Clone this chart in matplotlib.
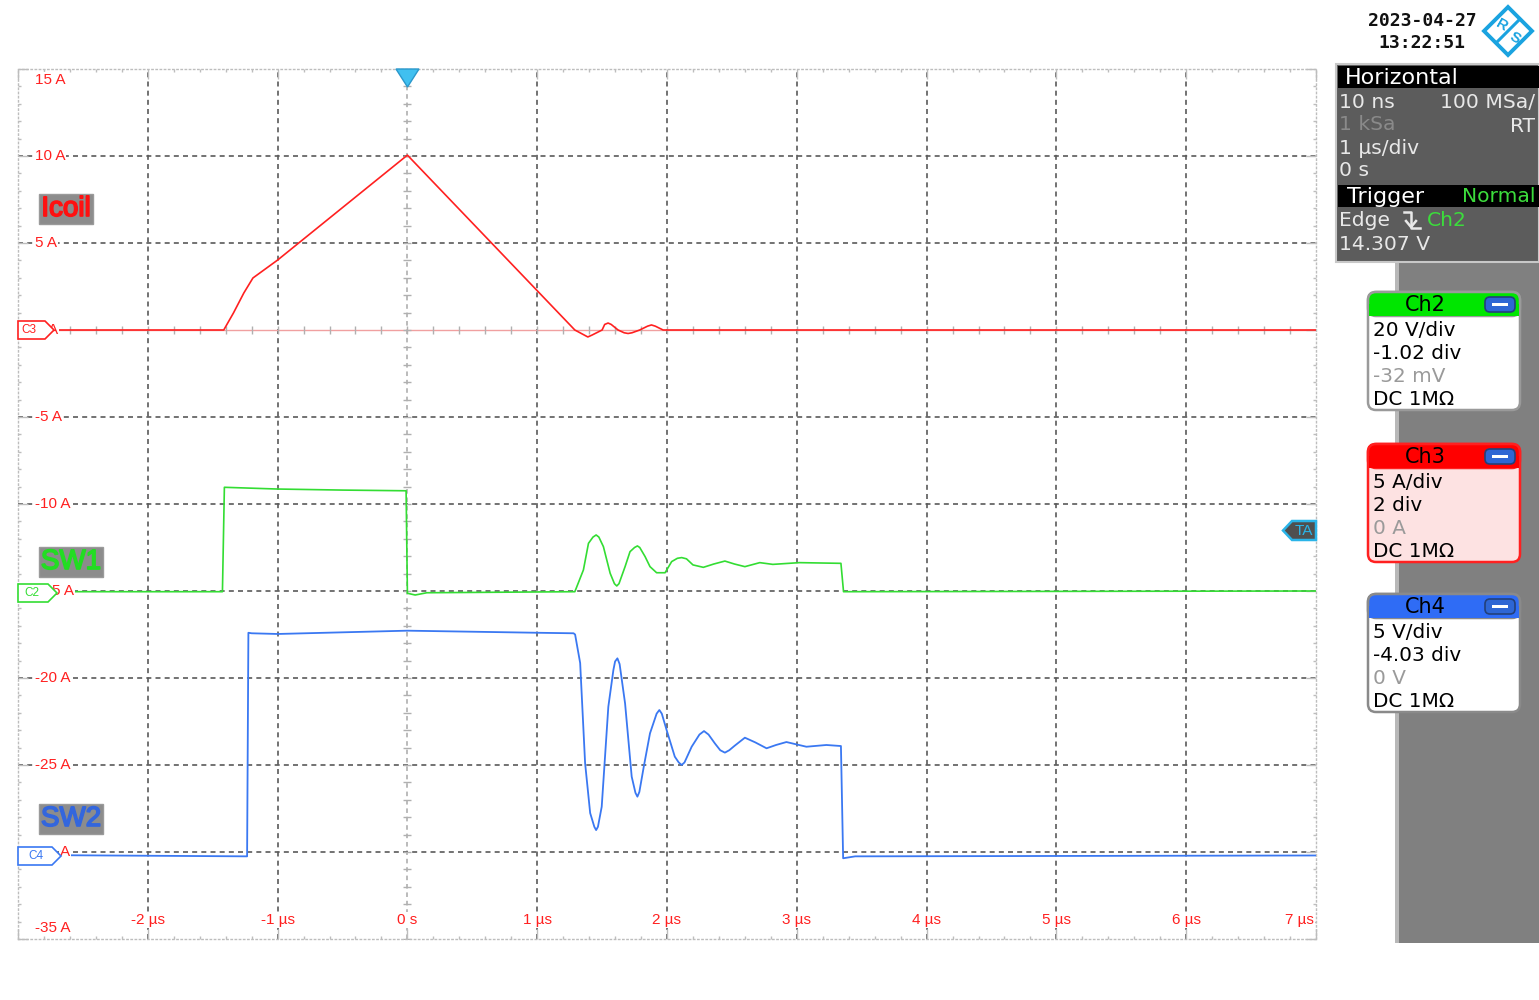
import numpy as np
import matplotlib.pyplot as plt
from matplotlib.patches import Polygon, FancyBboxPatch, Rectangle
from matplotlib.ticker import MultipleLocator
import matplotlib.patheffects as pe

plt.rcParams['font.family'] = ['Liberation Sans', 'DejaVu Sans']

# ---- trace data (time in µs, value in screen units of the Ch3 scale, A) ----
icoil_t = [-3.0, -1.415, -1.34, -1.26, -1.19, -1.0, 0.0, 1.29, 1.36, 1.39,
           1.42, 1.50, 1.52, 1.546, 1.57, 1.623, 1.67, 1.70, 1.73, 1.79,
           1.85, 1.88, 1.91, 1.97, 7.0]
icoil_v = [0.0, 0.0, 0.98, 2.13, 2.99, 4.02, 10.05, 0.0, -0.28, -0.4,
           -0.3, 0.0, 0.32, 0.4, 0.32, 0.0, -0.16, -0.2, -0.16, 0.0,
           0.22, 0.29, 0.22, 0.0, 0.0]

sw1_t = [-3.0, -1.425, -1.41, -1.0, -0.5, -0.01, 0.0, 0.06, 0.15, 1.29,
         1.356, 1.395, 1.43, 1.454, 1.475, 1.51, 1.562, 1.595, 1.613, 1.63,
         1.677, 1.715, 1.75, 1.772, 1.79, 1.831, 1.869, 1.92, 1.985, 2.036,
         2.08, 2.113, 2.15, 2.20, 2.28, 2.36, 2.446, 2.52, 2.60, 2.715,
         2.815, 3.02, 3.34, 3.36, 7.0]
sw1_v = [-15.04, -15.04, -9.04, -9.14, -9.20, -9.24, -15.13, -15.23, -15.10, -15.04,
         -13.79, -12.26, -11.90, -11.78, -11.90, -12.45, -13.98, -14.58, -14.71, -14.58,
         -13.60, -12.74, -12.50, -12.41, -12.50, -13.02, -13.60, -13.95, -13.95, -13.31,
         -13.12, -13.08, -13.15, -13.50, -13.64, -13.45, -13.28, -13.45, -13.60, -13.37,
         -13.47, -13.37, -13.41, -15.04, -15.0]

sw2_t = [-3.0, -1.235, -1.225, -1.20, -1.0, 0.0, 1.0, 1.28, 1.292, 1.331,
         1.369, 1.408, 1.44, 1.454, 1.468, 1.497, 1.548, 1.587, 1.60, 1.618,
         1.635, 1.677, 1.728, 1.757, 1.772, 1.787, 1.821, 1.869, 1.92, 1.941,
         1.96, 1.997, 2.06, 2.09, 2.113, 2.135, 2.19, 2.25, 2.285, 2.32,
         2.369, 2.41, 2.446, 2.48, 2.52, 2.60, 2.68, 2.767, 2.84, 2.92,
         3.074, 3.228, 3.34, 3.357, 3.45, 7.0]
sw2_v = [-30.17, -30.25, -17.40, -17.43, -17.47, -17.28, -17.40, -17.43, -17.50, -19.14,
         -24.89, -27.76, -28.55, -28.74, -28.55, -27.40, -21.65, -19.54, -19.05, -18.87,
         -19.20, -21.46, -25.67, -26.60, -26.82, -26.55, -25.10, -23.18, -22.05, -21.84,
         -22.05, -22.99, -24.52, -24.85, -25.00, -24.85, -23.95, -23.25, -23.05, -23.25,
         -23.76, -24.15, -24.29, -24.15, -23.90, -23.43, -23.70, -24.04, -23.85, -23.68,
         -23.95, -23.85, -23.91, -30.36, -30.25, -30.20]

y_ticks = [15, 10, 5, 0, -5, -10, -15, -20, -25, -30, -35]
x_ticks = [-2, -1, 0, 1, 2, 3, 4, 5, 6, 7]
x_labels = ['-2 µs', '-1 µs', '0 s', '1 µs', '2 µs', '3 µs', '4 µs', '5 µs', '6 µs', '7 µs']

RED = '#ff2020'
GREEN = '#33dd33'
BLUE = '#3a78f2'

W, H = 1539, 1000
fig = plt.figure(figsize=(W / 100, H / 100), dpi=100, facecolor='white')
ax = fig.add_axes([18 / W, 61 / H, 1298 / W, 870 / H])
ax.set_xlim(-3, 7)
ax.set_ylim(-35, 15)

# border + ticks
for s in ax.spines.values():
    s.set_linestyle((0, (1, 2)))
    s.set_color('#bdbdbd')
    s.set_linewidth(1.0)
ax.xaxis.set_major_locator(MultipleLocator(1))
ax.xaxis.set_minor_locator(MultipleLocator(0.2))
ax.yaxis.set_major_locator(MultipleLocator(5))
ax.yaxis.set_minor_locator(MultipleLocator(1))
ax.tick_params(which='both', direction='in', top=True, right=True,
               labelleft=False, labelbottom=False, color='#bdbdbd')
ax.tick_params(which='major', length=7, width=1)
ax.tick_params(which='minor', length=2.5, width=1)

# grid
dash = (0, (3, 2.5))
for xv in range(-2, 7):
    if xv == 0:
        ax.axvline(xv, color='#a8a8a8', lw=1.1, ls=dash, zorder=1)
    else:
        ax.axvline(xv, color='#5a5a5a', lw=1.2, ls=dash, zorder=1)
for yv in range(-30, 15, 5):
    if yv == 0:
        ax.axhline(yv, color='#f0a0a0', lw=1.0, zorder=1)
    else:
        ax.axhline(yv, color='#5a5a5a', lw=1.2, ls=dash, zorder=1)

# centre-axis tick crosses
ax.plot(np.zeros(50), np.arange(-35, 15, 1.0), ls='none', marker='_', ms=6,
        color='#b0b0b0', mew=1, zorder=1.5)
ax.plot(np.arange(-3, 7, 0.2), np.zeros(50), ls='none', marker='|', ms=6,
        color='#b0b0b0', mew=1, zorder=1.5)

# traces
ax.plot(icoil_t, icoil_v, color=RED, lw=1.2, zorder=3)
ax.plot(sw1_t, sw1_v, color=GREEN, lw=1.2, zorder=3)
ax.plot(sw2_t, sw2_v, color=BLUE, lw=1.3, zorder=3)

# tick labels inside the grid (the offset markers hide the start of some)
ytr = ax.get_yaxis_transform()
hidden = {0: ('A', 30), -15: ('5 A', 34), -30: ('A', 42)}
for yv in y_ticks:
    yy = min(max(yv, -34.37), 14.37)
    text, xpx = f'{yv} A', 17
    if yv in hidden:
        text, xpx = hidden[yv]
    ax.text(xpx / 1298, yy, text, transform=ytr, color=RED, fontsize=11,
            ha='left', va='center', zorder=4,
            bbox=dict(fc='white', ec='none', pad=0.5))
xtr = ax.get_xaxis_transform()
for xv, lab in zip(x_ticks, x_labels):
    if xv == 7:
        ax.text(6.985, 19 / 870, lab, transform=xtr, color=RED, fontsize=11,
                ha='right', va='center', zorder=4,
                bbox=dict(fc='white', ec='none', pad=0.5))
    else:
        ax.text(xv, 19 / 870, lab, transform=xtr, color=RED, fontsize=11,
                ha='center', va='center', zorder=4,
                bbox=dict(fc='white', ec='none', pad=0.5))

# ---- overlay in pixel coordinates for scope decorations ----
ov = fig.add_axes([0, 0, 1, 1])
ov.set_xlim(0, W)
ov.set_ylim(H, 0)
ov.axis('off')
ov.patch.set_visible(False)

# channel labels
for txt, col, xc, yc in [('Icoil', '#ff1010', 66, 209), ('SW1', '#22dd22', 71, 562),
                         ('SW2', '#3366dd', 71, 819)]:
    ov.text(xc, yc, txt, color=col, fontsize=20, ha='center', va='center',
            path_effects=[pe.withStroke(linewidth=1.2, foreground=col)],
            bbox=dict(fc='#8c8c8c', ec='#9a9a9a', boxstyle='square,pad=0.08'))

# channel offset markers
for lab, col, yc, tip in [('C3', RED, 330, 54), ('C2', GREEN, 593, 57), ('C4', BLUE, 856, 61)]:
    ov.add_patch(Polygon([(18, yc - 9), (tip - 9, yc - 9), (tip, yc), (tip - 9, yc + 9), (18, yc + 9)],
                         closed=True, fc='white', ec=col, lw=1.2, zorder=6))
    ov.text(21 + (tip - 54), yc, lab, color=col, fontsize=8.5, ha='left', va='center', zorder=7)

# trigger position marker and TA marker
ov.add_patch(Polygon([(396, 69), (419, 69), (407.5, 87)], closed=True, fc='#40c0f0', ec='#2a98cc', lw=1))
ov.add_patch(Polygon([(1283, 530.5), (1292, 521), (1316, 521), (1316, 540), (1292, 540)],
                     closed=True, fc='#4f4f4f', ec='#2ab4e8', lw=1.8))
ov.text(1304, 531, 'TA', color='#2ab4e8', fontsize=11, ha='center', va='center')

# right side panel
ov.add_patch(Rectangle((1395, 262), 144, 681, fc='#808080', ec='none'))
ov.add_patch(Rectangle((1395, 262), 3.5, 681, fc='#b8b8b8', ec='none'))

# date / time
ov.text(1422, 21, '2023-04-27', family='DejaVu Sans Mono', weight='bold', fontsize=13,
        ha='center', va='center', color='#111111')
ov.text(1422, 43, '13:22:51', family='DejaVu Sans Mono', weight='bold', fontsize=13,
        ha='center', va='center', color='#111111')

# R&S logo
lc = '#1aa3e0'
ov.add_patch(Polygon([(1508, 7), (1532, 31), (1508, 55), (1484, 31)], closed=True,
                     fc='white', ec=lc, lw=2.8))
ov.plot([1520, 1496], [19, 43], color=lc, lw=2.2)
ov.text(1502, 25, 'R', color=lc, fontsize=11, weight='bold', ha='center', va='center', rotation=-30)
ov.text(1515, 38, 'S', color=lc, fontsize=11, weight='bold', ha='center', va='center', rotation=-30)

# horizontal / trigger box
ov.add_patch(Rectangle((1336, 64), 203, 198, fc='#5c5c5c', ec='#c8c8c8', lw=1.5))
ov.add_patch(Rectangle((1338, 66), 201, 22, fc='black', ec='none'))
ov.add_patch(Rectangle((1338, 185), 201, 22, fc='black', ec='none'))
fg = '#e8e8e8'
fs = 14.6
ov.text(1345, 78, 'Horizontal', color='white', fontsize=16, ha='left', va='center', family='DejaVu Sans')
ov.text(1339, 102, '10 ns', color=fg, fontsize=fs, ha='left', va='center', family='DejaVu Sans')
ov.text(1535, 102, '100 MSa/', color=fg, fontsize=fs, ha='right', va='center', family='DejaVu Sans')
ov.text(1339, 125, '1 kSa', color='#8a8a8a', fontsize=fs, ha='left', va='center', family='DejaVu Sans')
ov.text(1535, 126, 'RT', color=fg, fontsize=fs, ha='right', va='center', family='DejaVu Sans')
ov.text(1339, 148, '1 µs/div', color=fg, fontsize=fs, ha='left', va='center', family='DejaVu Sans')
ov.text(1339, 171, '0 s', color=fg, fontsize=fs, ha='left', va='center', family='DejaVu Sans')
ov.text(1347, 197, 'Trigger', color='white', fontsize=16, ha='left', va='center', family='DejaVu Sans')
ov.text(1535, 197, 'Normal', color='#3cdc3c', fontsize=fs, ha='right', va='center', family='DejaVu Sans')
ov.text(1339, 221, 'Edge', color=fg, fontsize=fs, ha='left', va='center', family='DejaVu Sans')
ov.plot([1404, 1411, 1411, 1420], [212, 212, 228, 228], color=fg, lw=1.8)
ov.plot([1406, 1411, 1416], [221, 227, 221], color=fg, lw=1.8)
ov.text(1427, 221, 'Ch2', color='#3cdc3c', fontsize=fs, ha='left', va='center', family='DejaVu Sans')
ov.text(1339, 244, '14.307 V', color=fg, fontsize=fs, ha='left', va='center', family='DejaVu Sans')

# channel setting boxes
boxes = [
    ('Ch2', 292, '#00e600', 'white', '#9a9a9a', ['20 V/div', '-1.02 div', '-32 mV', 'DC 1MΩ']),
    ('Ch3', 444, '#ff0000', '#fde2e2', '#ff2020', ['5 A/div', '2 div', '0 A', 'DC 1MΩ']),
    ('Ch4', 594, '#2f6cf5', 'white', '#8a8a8a', ['5 V/div', '-4.03 div', '0 V', 'DC 1MΩ']),
]
for name, top, hc, bc, ec, lines in boxes:
    ov.add_patch(FancyBboxPatch((1368, top), 152, 118, boxstyle='round,pad=0,rounding_size=8',
                                fc=bc, ec=ec, lw=1.8))
    ov.add_patch(FancyBboxPatch((1368, top), 152, 24, boxstyle='round,pad=0,rounding_size=8',
                                fc=hc, ec=ec, lw=1.8))
    ov.add_patch(Rectangle((1369, top + 12), 150, 12, fc=hc, ec='none'))
    ov.text(1425, top + 13, name, color='black', fontsize=15, ha='center', va='center', family='DejaVu Sans')
    ov.add_patch(FancyBboxPatch((1485, top + 5), 30, 15, boxstyle='round,pad=0,rounding_size=5',
                                fc='#2e66d4', ec='#23407a', lw=1.2))
    ov.add_patch(Rectangle((1492, top + 11), 16, 3, fc='white', ec='none'))
    for i, ln in enumerate(lines):
        col = '#9a9a9a' if i == 2 else 'black'
        ov.text(1373, top + 39 + i * 22.7, ln, color=col, fontsize=14.4, ha='left', va='center',
                family='DejaVu Sans')

fig.savefig('out.png', dpi=100, facecolor='white')
